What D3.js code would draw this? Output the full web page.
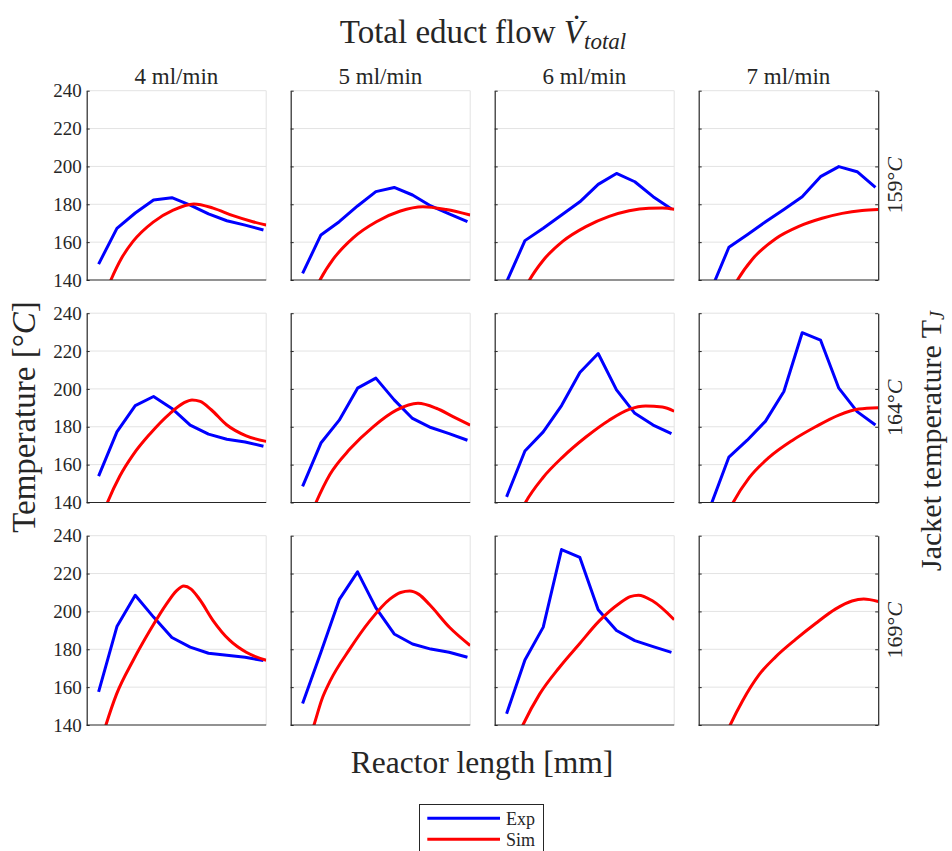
<!DOCTYPE html>
<html>
<head>
<meta charset="utf-8">
<script src="https://cdn.jsdelivr.net/npm/d3@7"></script>
<style>
  body { margin: 0; background: #fff; }
  svg { display: block; }
  text { font-family: "Liberation Serif", "Times New Roman", serif; fill: #262626; }
</style>
</head>
<body>
<svg id="chart" width="952" height="851"></svg>
<script>
// Column headers (total educt flow) and row headers (jacket temperature)
const flows = ["4 ml/min", "5 ml/min", "6 ml/min", "7 ml/min"];
const jacketTemps = ["159", "164", "169"];
const yTicks = [140, 160, 180, 200, 220, 240];

// Thermocouple positions along the reactor [mm]
const expPositions = [6.5, 16.5, 26.5, 36.5, 46.5, 56.5, 66.5, 76.5, 86.5, 96.5];

// Measured temperatures [°C], one list per flow rate (null = no measurement)
const exp159 = [
  [148.4, 167.3, 175.4, 182.3, 183.5, 179.6, 174.9, 171.3, 169.0, 166.4],
  [143.5, 163.8, 170.8, 179.1, 186.7, 188.9, 184.9, 179.1, 174.9, 170.8],
  [139.0, 160.8, 167.3, 174.3, 181.3, 190.5, 196.3, 191.9, 184.0, 177.5],
  [134.2, 157.3, 163.9, 170.8, 177.3, 184.0, 194.6, 199.9, 197.2, 188.9]
];
const exp164 = [
  [153.9, 177.3, 191.2, 196.0, 189.7, 180.9, 176.1, 173.4, 172.0, 169.7],
  [148.5, 171.4, 183.5, 200.4, 205.7, 194.2, 184.4, 179.6, 176.4, 172.9],
  [143.0, 167.2, 177.3, 191.2, 208.7, 218.7, 199.5, 187.1, 180.9, 176.4],
  [138.2, 164.0, 172.9, 183.0, 198.6, 229.7, 225.8, 200.4, 188.0, 180.9]
];
const exp169 = [
  [157.5, 192.0, 208.5, 197.0, 186.2, 181.1, 177.9, 176.8, 175.8, 174.0],
  [151.3, 178.4, 206.2, 220.9, 201.9, 188.1, 182.8, 180.1, 178.4, 175.8],
  [146.0, 174.3, 191.7, 232.7, 228.5, 200.9, 189.9, 184.6, 181.4, 178.4],
  null
];

// Simulated temperature profiles: [position mm, temperature °C]
const sim159 = [
  [[6, 122], [13.2, 140], [19, 151.5], [25.4, 160.5], [36.3, 170.6], [47.2, 176.9], [58.5, 180.2], [69, 178], [79.9, 174], [90.7, 170.8], [98, 169]],
  [[9, 125], [16, 140], [23.2, 151], [34.1, 162.3], [46.8, 170.8], [59.5, 176.3], [72.2, 178.7], [84.9, 177.2], [98, 174.3]],
  [[12, 126], [19, 140], [26.3, 150.2], [37.1, 160.4], [49.8, 168.2], [62.5, 173.6], [73.4, 176.6], [84.2, 177.9], [91.5, 178], [98, 177.4]],
  [[14, 126], [21.2, 140], [29.3, 151], [42, 161.8], [54.7, 168.3], [67.4, 172.6], [78.3, 175.2], [89.2, 176.7], [98, 177.2]]
];
const sim164 = [
  [[5, 124], [11.3, 140], [18.1, 154], [25.4, 165.3], [34.5, 176.2], [45.4, 187], [53, 192.6], [57.5, 194.2], [62, 193.4], [68, 189], [76.2, 181.2], [87.1, 175.2], [98, 172.3]],
  [[7, 124], [13.8, 140], [21.4, 154.8], [32.3, 168.2], [45, 180], [57.7, 188.8], [69.5, 192.4], [79.5, 189.8], [88.6, 185.4], [98, 180.9]],
  [[10, 126], [16.8, 140], [26.3, 153.1], [37.1, 164], [49.8, 174.6], [62.5, 183.5], [73.4, 189.2], [82.4, 191], [91.5, 190.4], [98, 188.2]],
  [[12, 126], [18.8, 140], [27.5, 153], [38.4, 163.8], [51.1, 172.8], [63.8, 180], [76.5, 186.2], [87.4, 189.4], [98, 190.1]]
];
const sim169 = [
  [[5, 122], [10.5, 140], [16.3, 156.3], [25.4, 174.2], [34.5, 189.9], [43.6, 204], [49, 210.9], [53, 213.4], [57, 211.8], [61.7, 206.3], [69, 195.2], [78, 184.8], [87.1, 178.4], [98, 174.2]],
  [[7, 124], [12.7, 140], [17, 153.5], [21.4, 163], [32.3, 180.2], [43.2, 195], [54.1, 206.5], [60, 210], [65, 210.8], [70, 209], [75.9, 203.5], [86.8, 191.5], [98, 182]],
  [[9, 126], [15.4, 140], [24.5, 156.3], [35.3, 170.4], [46.2, 182.8], [57.1, 195], [68, 204.2], [74, 207.8], [78.5, 208.6], [86.1, 205.6], [98, 195.6]],
  [[11, 126], [17.2, 140], [23.9, 152.7], [33, 166.6], [42, 176], [52.9, 185.2], [63.8, 193.6], [74.6, 201.2], [83.7, 205.5], [90.1, 206.5], [98, 205.2]]
];

const expRows = [exp159, exp164, exp169];
const simRows = [sim159, sim164, sim169];

const svg = d3.select("#chart");
const axisColor = "#262626";
const gridColor = "#e3e3e3";
const blue = "#0000ff", red = "#ff0000";

// Tile geometry
const left0 = 86.7, colStep = 204, pw = 179.5;
const top0 = 90.7, rowStep = 222.5, ph = 189.3;

const x = d3.scaleLinear().domain([0, 98]).range([0, pw]);
const y = d3.scaleLinear().domain([140, 240]).range([ph, 0]);

const expLine = d3.line().x((d, i) => x(expPositions[i])).y(d => y(d));
const simLine = d3.line().x(d => x(d[0])).y(d => y(d[1])).curve(d3.curveMonotoneX);

jacketTemps.forEach((jt, r) => {
  flows.forEach((fl, c) => {
    const g = svg.append("g")
      .attr("transform", `translate(${left0 + c * colStep},${top0 + r * rowStep})`);
    const clipId = `clip-${r}-${c}`;
    g.append("clipPath").attr("id", clipId)
      .append("rect").attr("x", 0).attr("y", 0).attr("width", pw).attr("height", ph);

    // horizontal grid + light frame
    g.selectAll("line.grid").data(yTicks.slice(1)).join("line")
      .attr("class", "grid")
      .attr("x1", 0).attr("x2", pw)
      .attr("y1", d => y(d)).attr("y2", d => y(d))
      .attr("stroke", gridColor).attr("stroke-width", 1);
    if (c < 3) {
      g.append("line").attr("x1", pw).attr("x2", pw).attr("y1", 0).attr("y2", ph)
        .attr("stroke", gridColor).attr("stroke-width", 1);
    }

    const plot = g.append("g").attr("clip-path", `url(#${clipId})`);
    const e = expRows[r][c];
    if (e) {
      plot.append("path").datum(e).attr("d", expLine)
        .attr("fill", "none").attr("stroke", blue).attr("stroke-width", 3)
        .attr("stroke-linejoin", "round");
    }
    plot.append("path").datum(simRows[r][c]).attr("d", simLine)
      .attr("fill", "none").attr("stroke", red).attr("stroke-width", 3);

    // left axis with inward ticks
    const yAxis = d3.axisLeft(y).tickValues(yTicks).tickSizeInner(-3).tickSizeOuter(0).tickPadding(5)
      .tickFormat(c === 0 ? d3.format("d") : () => "");
    const ya = g.append("g").call(yAxis);
    ya.attr("font-family", null);
    ya.select(".domain").attr("stroke", axisColor).attr("stroke-width", 1.2);
    ya.selectAll(".tick line").attr("stroke", axisColor);
    ya.selectAll(".tick text").attr("font-size", 19).attr("fill", "#262626");

    if (c === 3) {
      const yr = g.append("g").attr("transform", `translate(${pw},0)`)
        .call(d3.axisRight(y).tickValues(yTicks).tickSizeInner(-3).tickSizeOuter(0).tickFormat(() => ""));
      yr.select(".domain").attr("stroke", axisColor).attr("stroke-width", 1.2);
      yr.selectAll(".tick line").attr("stroke", axisColor);
    }
    // bottom axis line
    g.append("line").attr("x1", 0).attr("x2", pw).attr("y1", ph).attr("y2", ph)
      .attr("stroke", axisColor).attr("stroke-width", 1.2);

    if (r === 0) {
      g.append("text").attr("x", pw / 2).attr("y", -7).attr("text-anchor", "middle")
        .attr("font-size", 23).text(fl);
    }
    if (c === 3) {
      const t = svg.append("text")
        .attr("transform", `translate(${left0 + c * colStep + pw + 24},${top0 + r * rowStep + ph / 2}) rotate(-90)`)
        .attr("text-anchor", "middle").attr("font-size", 22);
      t.append("tspan").text(jt + "°");
      t.append("tspan").attr("font-style", "italic").text("C");
    }
  });
});

// Figure title
const title = svg.append("text").attr("x", 483).attr("y", 43).attr("text-anchor", "middle").attr("font-size", 33);
title.append("tspan").text("Total educt flow ");
title.append("tspan").attr("font-style", "italic").text("V\u0307");
title.append("tspan").attr("font-style", "italic").attr("font-size", 23).attr("dy", 6).text("total");

// Shared axis labels
const yl = svg.append("text").attr("transform", "translate(35,417) rotate(-90)")
  .attr("text-anchor", "middle").attr("font-size", 33);
yl.append("tspan").text("Temperature [°");
yl.append("tspan").attr("font-style", "italic").text("C");
yl.append("tspan").text("]");

svg.append("text").attr("x", 482).attr("y", 773).attr("text-anchor", "middle")
  .attr("font-size", 31.5).text("Reactor length [mm]");

const jl = svg.append("text").attr("transform", "translate(941,441) rotate(-90)")
  .attr("text-anchor", "middle").attr("font-size", 30);
jl.append("tspan").text("Jacket temperature T");
jl.append("tspan").attr("font-style", "italic").attr("font-size", 20).attr("dy", 3).text("J");

// Legend
const lg = svg.append("g");
lg.append("rect").attr("x", 419.5).attr("y", 804.5).attr("width", 124).attr("height", 60)
  .attr("fill", "#fff").attr("stroke", "#262626").attr("stroke-width", 1);
const legendItems = [["Exp", blue], ["Sim", red]];
legendItems.forEach(([name, col], i) => {
  const yy = 818.3 + i * 21;
  lg.append("line").attr("x1", 427.3).attr("x2", 500).attr("y1", yy).attr("y2", yy)
    .attr("stroke", col).attr("stroke-width", 3);
  lg.append("text").attr("x", 506).attr("y", yy).attr("dy", "0.35em").attr("font-size", 18).text(name);
});
</script>
</body>
</html>
